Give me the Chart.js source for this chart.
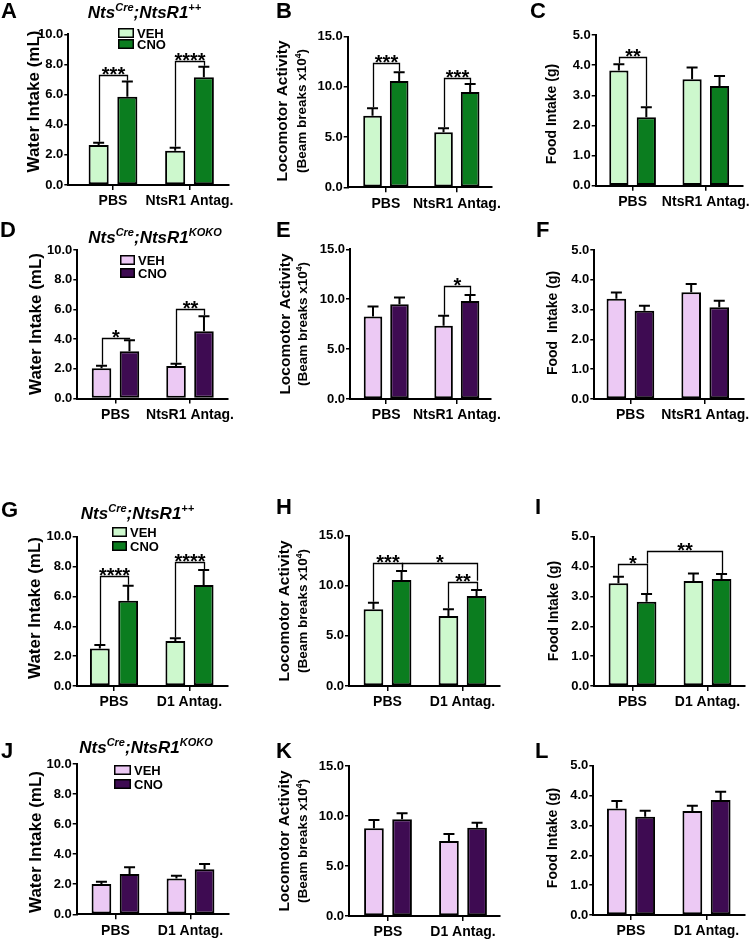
<!DOCTYPE html>
<html><head><meta charset="utf-8">
<script src="https://cdn.jsdelivr.net/npm/chart.js@4.4.1/dist/chart.umd.min.js"></script>
<style>
html,body{margin:0;padding:0;background:#fff;}
body{width:755px;height:940px;position:relative;overflow:hidden;}
canvas{position:absolute;}
</style></head><body>
<script>
// ---------------- DATA ----------------
const groupsNtsR1 = ["PBS", "NtsR1 Antag."];
const groupsD1 = ["PBS", "D1 Antag."];
const seriesLabels = ["VEH", "CNO"];

// Row 1 (NtsCre;NtsR1++, NtsR1 antagonist)
const waterA_veh = [2.65, 2.28];  const waterA_vehErr = [0.15, 0.20];
const waterA_cno = [5.86, 7.15];  const waterA_cnoErr = [1.00, 0.70];
const locoB_veh  = [7.13, 5.48];  const locoB_vehErr  = [0.74, 0.39];
const locoB_cno  = [10.59, 9.49]; const locoB_cnoErr  = [0.86, 0.80];
const foodC_veh  = [3.82, 3.53];  const foodC_vehErr  = [0.21, 0.39];
const foodC_cno  = [2.27, 3.31];  const foodC_cnoErr  = [0.33, 0.33];
// Row 2 (NtsCre;NtsR1KOKO, NtsR1 antagonist)
const waterD_veh = [2.03, 2.19];  const waterD_vehErr = [0.17, 0.15];
const waterD_cno = [3.19, 4.53];  const waterD_cnoErr = [0.74, 1.01];
const locoE_veh  = [8.27, 7.33];  const locoE_vehErr  = [1.00, 1.00];
const locoE_cno  = [9.50, 9.83];  const locoE_cnoErr  = [0.67, 0.60];
const foodF_veh  = [3.36, 3.58];  const foodF_vehErr  = [0.21, 0.28];
const foodF_cno  = [2.96, 3.08];  const foodF_cnoErr  = [0.17, 0.22];
// Row 3 (NtsCre;NtsR1++, D1 antagonist)
const waterG_veh = [2.52, 3.01];  const waterG_vehErr = [0.23, 0.18];
const waterG_cno = [5.71, 6.76];  const waterG_cnoErr = [1.01, 1.01];
const locoH_veh  = [7.65, 6.98];  const locoH_vehErr  = [0.66, 0.67];
const locoH_cno  = [10.58, 8.98]; const locoH_cnoErr  = [0.89, 0.60];
const foodI_veh  = [3.44, 3.52];  const foodI_vehErr  = [0.22, 0.25];
const foodI_cno  = [2.82, 3.58];  const foodI_cnoErr  = [0.26, 0.17];
// Row 4 (NtsCre;NtsR1KOKO, D1 antagonist)
const waterJ_veh = [2.02, 2.39];  const waterJ_vehErr = [0.15, 0.18];
const waterJ_cno = [2.68, 2.99];  const waterJ_cnoErr = [0.45, 0.36];
const locoK_veh  = [8.77, 7.50];  const locoK_vehErr  = [0.83, 0.70];
const locoK_cno  = [9.67, 8.83];  const locoK_cnoErr  = [0.60, 0.50];
const foodL_veh  = [3.57, 3.48];  const foodL_vehErr  = [0.25, 0.18];
const foodL_cno  = [3.29, 3.85];  const foodL_cnoErr  = [0.20, 0.28];

// significance brackets: from/to = [group, series]; level = bracket height (data units)
const bracketsA = [{from:[0,0], to:[0,1], level:7.3,  label:"***"},
                   {from:[1,0], to:[1,1], level:8.23, label:"****"}];
const bracketsB = [{from:[0,0], to:[0,1], level:12.35, label:"***"},
                   {from:[1,0], to:[1,1], level:10.85, label:"***"}];
const bracketsC = [{from:[0,0], to:[0,1], level:4.28, label:"**"}];
const bracketsD = [{from:[0,0], to:[0,1], level:4.08, label:"*"},
                   {from:[1,0], to:[1,1], level:6.03, label:"**"}];
const bracketsE = [{from:[1,0], to:[1,1], level:11.37, label:"*"}];
const bracketsG = [{from:[0,0], to:[0,1], level:7.39, label:"****"},
                   {from:[1,0], to:[1,1], level:8.28, label:"****"}];
const bracketsH = [{from:[0,0], to:[0,1], level:12.24, label:"***"},
                   {from:[0,1], to:[1,1], level:12.24, label:"*", fromLow:11.75, toLow:10.41},
                   {from:[1,0], to:[1,1], level:10.41, label:"**"}];
const bracketsI = [{from:[0,0], to:[0,1], level:4.07, label:"*"},
                   {from:[0,1], to:[1,1], level:4.52, label:"**", fromLow:4.07}];

// text
const titleWT = [["Nts",0],["Cre",1],[";NtsR1",0],["++",1]];
const titleKO = [["Nts",0],["Cre",1],[";NtsR1",0],["KOKO",1]];
const yTitleWater = [[["Water Intake (mL)",0]]];
const yTitleLoco  = [[["Locomotor Activity",0]], [["(Beam breaks x10",0],["4",1],[")",0]]];
const yTitleFood  = [[["Food Intake (g)",0]]];
const yTitleFood2 = [[["Food  Intake (g)",0]]];

// colours
const lightGreen = "#cdf8cd", darkGreen = "#0b7d1f";
const lightPurple = "#ecc9f4", darkPurple = "#3e0b52";

// ---------------- LAYOUT (pixels, page coordinates) ----------------
const FONT = "'Liberation Sans', Arial, Helvetica, sans-serif";
Chart.defaults.font.family = FONT;
Chart.defaults.color = "#000";

const panels = [
 {letter:"A", groups:groupsNtsR1, veh:waterA_veh, vehErr:waterA_vehErr, cno:waterA_cno, cnoErr:waterA_cnoErr, light:lightGreen, dark:darkGreen, yMax:10, yStep:2, yTitle:yTitleWater, brackets:bracketsA, title:titleWT,
  geo:{col:0, L:68.3, T:34.3, B:185, R:229, c0:113, c1:189.5, letterPos:[1,18], titlePos:[144.5,18], legend:[118,28,39,16,10], yPos:[[33,101.5]]}},
 {letter:"B", groups:groupsNtsR1, veh:locoB_veh, vehErr:locoB_vehErr, cno:locoB_cno, cnoErr:locoB_cnoErr, light:lightGreen, dark:darkGreen, yMax:15, yStep:5, yTitle:yTitleLoco, brackets:bracketsB,
  geo:{col:1, L:347.7, T:36.7, B:187.3, R:500, c0:388, c1:463, letterPos:[276,18], yPos:[[282,111],[302,111]]}},
 {letter:"C", groups:groupsNtsR1, veh:foodC_veh, vehErr:foodC_vehErr, cno:foodC_cno, cnoErr:foodC_cnoErr, light:lightGreen, dark:darkGreen, yMax:5, yStep:1, yTitle:yTitleFood, brackets:bracketsC,
  geo:{col:2, L:595.7, T:35, B:185.7, R:746, c0:633.5, c1:708.5, letterPos:[530,18], yPos:[[551.7,114]]}},
 {letter:"D", groups:groupsNtsR1, veh:waterD_veh, vehErr:waterD_vehErr, cno:waterD_cno, cnoErr:waterD_cnoErr, light:lightPurple, dark:darkPurple, yMax:10, yStep:2, yTitle:yTitleWater, brackets:bracketsD, title:titleKO,
  geo:{col:0, L:77.3, T:250, B:398.5, R:228, c0:115.5, c1:190, letterPos:[0,237], titlePos:[155,243], legend:[120,255,268,15,10], yPos:[[35,324]]}},
 {letter:"E", groups:groupsNtsR1, veh:locoE_veh, vehErr:locoE_vehErr, cno:locoE_cno, cnoErr:locoE_cnoErr, light:lightPurple, dark:darkPurple, yMax:15, yStep:5, yTitle:yTitleLoco, brackets:bracketsE,
  geo:{col:1, L:350, T:249.3, B:399, R:500, c0:388.5, c1:463.5, letterPos:[276,237], yPos:[[285,324],[303,324]]}},
 {letter:"F", groups:groupsNtsR1, veh:foodF_veh, vehErr:foodF_vehErr, cno:foodF_cno, cnoErr:foodF_cnoErr, light:lightPurple, dark:darkPurple, yMax:5, yStep:1, yTitle:yTitleFood2, brackets:[],
  geo:{col:2, L:594.3, T:250, B:399, R:744, c0:630.5, c1:705.5, letterPos:[536,237], yPos:[[552.5,323]]}},
 {letter:"G", groups:groupsD1, veh:waterG_veh, vehErr:waterG_vehErr, cno:waterG_cno, cnoErr:waterG_cnoErr, light:lightGreen, dark:darkGreen, yMax:10, yStep:2, yTitle:yTitleWater, brackets:bracketsG, title:titleWT,
  geo:{col:0, L:76.7, T:536.7, B:686, R:228, c0:114, c1:189.5, letterPos:[1,517], titlePos:[137.5,519], legend:[112,527,541,15,10], yPos:[[34,608]]}},
 {letter:"H", groups:groupsD1, veh:locoH_veh, vehErr:locoH_vehErr, cno:locoH_cno, cnoErr:locoH_cnoErr, light:lightGreen, dark:darkGreen, yMax:15, yStep:5, yTitle:yTitleLoco, brackets:bracketsH,
  geo:{col:1, L:349, T:535.7, B:686, R:500, c0:387.5, c1:462.5, letterPos:[276,514], yPos:[[284,611],[303,611]]}},
 {letter:"I", groups:groupsD1, veh:foodI_veh, vehErr:foodI_vehErr, cno:foodI_cno, cnoErr:foodI_cnoErr, light:lightGreen, dark:darkGreen, yMax:5, yStep:1, yTitle:yTitleFood, brackets:bracketsI,
  geo:{col:2, L:594.3, T:536.7, B:686, R:745, c0:632.5, c1:707.5, letterPos:[535,514], yPos:[[553,611]]}},
 {letter:"J", groups:groupsD1, veh:waterJ_veh, vehErr:waterJ_vehErr, cno:waterJ_cno, cnoErr:waterJ_cnoErr, light:lightPurple, dark:darkPurple, yMax:10, yStep:2, yTitle:yTitleWater, brackets:[], title:titleKO,
  geo:{col:0, L:76.7, T:764, B:914.3, R:229, c0:115.5, c1:190.5, letterPos:[1,758], titlePos:[146,753], legend:[114,765,779,17,10], yPos:[[35,842]]}},
 {letter:"K", groups:groupsD1, veh:locoK_veh, vehErr:locoK_vehErr, cno:locoK_cno, cnoErr:locoK_cnoErr, light:lightPurple, dark:darkPurple, yMax:15, yStep:5, yTitle:yTitleLoco, brackets:[],
  geo:{col:1, L:349, T:766, B:916, R:500, c0:388, c1:463, letterPos:[276,758], yPos:[[283.5,841],[303,841]]}},
 {letter:"L", groups:groupsD1, veh:foodL_veh, vehErr:foodL_vehErr, cno:foodL_cno, cnoErr:foodL_cnoErr, light:lightPurple, dark:darkPurple, yMax:5, yStep:1, yTitle:yTitleFood, brackets:[],
  geo:{col:2, L:593.3, T:765.7, B:915, R:745, c0:631, c1:706.5, letterPos:[535,758], yPos:[[552.5,838]]}},
];

const yTitleFonts = { water:[17], loco:[15.5, 13.5], food:[14] };

function drawParts(ctx, parts, x, y, size, supSize, style, rotate) {
  ctx.save();
  ctx.translate(x, y);
  if (rotate) ctx.rotate(-Math.PI / 2);
  let total = 0;
  const widths = parts.map(([t, sup]) => {
    ctx.font = style + " " + (sup ? supSize : size) + "px " + FONT;
    const w = ctx.measureText(t).width; total += w; return w;
  });
  let cx = -total / 2;
  ctx.textBaseline = "alphabetic"; ctx.textAlign = "left"; ctx.fillStyle = "#000";
  parts.forEach(([t, sup], i) => {
    ctx.font = style + " " + (sup ? supSize : size) + "px " + FONT;
    ctx.fillText(t, cx, sup ? -size * 0.4 : 0);
    cx += widths[i];
  });
  ctx.restore();
}

function makeChart(p) {
  const g = p.geo;
  const cLeft = [0, 255, 505][g.col];
  const cTop = Math.floor(g.T) - 42;
  const cW = 250;
  const cH = Math.ceil(g.B) - cTop + 36;
  const xAxisH = 30;
  const canvas = document.createElement("canvas");
  canvas.width = cW; canvas.height = cH;
  canvas.style.left = cLeft + "px"; canvas.style.top = cTop + "px";
  canvas.style.width = cW + "px"; canvas.style.height = cH + "px";
  document.body.appendChild(canvas);

  const s = g.c1 - g.c0;
  const xMin = -(g.c0 - g.L) / s, xMax = 1 + (g.R - g.c1) / s;
  const padTop = g.T - cTop;
  const padBottom = cH - (g.B - cTop) - xAxisH;
  const padRight = cW - (g.R - cLeft);
  const yW = g.L - cLeft;

  const values = [p.veh, p.cno], errs = [p.vehErr, p.cnoErr];
  const kind = p.yTitle === yTitleWater ? "water" : (p.yTitle === yTitleLoco ? "loco" : "food");

  const extras = {
    id: "extras" + p.letter,
    afterDatasetsDraw(chart) {
      const ctx = chart.ctx, ys = chart.scales.y;
      ctx.save();
      // error bars
      ctx.strokeStyle = "#000"; ctx.lineWidth = 2; ctx.lineCap = "butt";
      for (let d = 0; d < 2; d++) {
        chart.getDatasetMeta(d).data.forEach((bar, i) => {
          const yt = ys.getPixelForValue(values[d][i] + errs[d][i]);
          ctx.beginPath();
          ctx.moveTo(bar.x, bar.y); ctx.lineTo(bar.x, yt);
          ctx.moveTo(bar.x - 5.5, yt); ctx.lineTo(bar.x + 5.5, yt);
          ctx.stroke();
        });
      }
      // brackets
      ctx.lineWidth = 1.3;
      p.brackets.forEach(b => {
        const bf = chart.getDatasetMeta(b.from[1]).data[b.from[0]];
        const bt = chart.getDatasetMeta(b.to[1]).data[b.to[0]];
        const lowF = b.fromLow !== undefined ? b.fromLow : values[b.from[1]][b.from[0]] + errs[b.from[1]][b.from[0]];
        const lowT = b.toLow !== undefined ? b.toLow : values[b.to[1]][b.to[0]] + errs[b.to[1]][b.to[0]];
        const yl = Math.round(ys.getPixelForValue(b.level)) + 0.5;
        const xf = Math.round(bf.x) + 0.5, xt = Math.round(bt.x) + 0.5;
        ctx.beginPath();
        ctx.moveTo(xf, ys.getPixelForValue(lowF) - 1);
        ctx.lineTo(xf, yl); ctx.lineTo(xt, yl);
        ctx.lineTo(xt, ys.getPixelForValue(lowT) - 1);
        ctx.stroke();
        ctx.font = "bold 20px " + FONT;
        ctx.fillStyle = "#000"; ctx.textAlign = "center"; ctx.textBaseline = "alphabetic";
        ctx.fillText(b.label, (xf + xt) / 2, yl + 5);
      });
      ctx.restore();
    },
    afterDraw(chart) {
      const ctx = chart.ctx;
      ctx.save();
      // panel letter
      ctx.font = "bold 22px " + FONT; ctx.fillStyle = "#000";
      ctx.textAlign = "left"; ctx.textBaseline = "alphabetic";
      ctx.fillText(p.letter, g.letterPos[0] - cLeft, g.letterPos[1] - cTop);
      // genotype title
      if (p.title) drawParts(ctx, p.title, g.titlePos[0] - cLeft, g.titlePos[1] - cTop, 17, 11, "italic bold", false);
      // y titles
      p.yTitle.forEach((parts, li) => {
        const size = yTitleFonts[kind][li];
        const pos = g.yPos[li];
        drawParts(ctx, parts, pos[0] - cLeft + size * 0.33, pos[1] - cTop, size, size * 0.65, "bold", true);
      });
      // legend
      if (g.legend) {
        const [lx, y1, y2, w, h] = g.legend;
        [y1, y2].forEach((yy, d) => {
          const ds = chart.data.datasets[d];
          ctx.fillStyle = ds.backgroundColor;
          ctx.fillRect(lx - cLeft, yy - cTop, w, h);
          ctx.strokeStyle = "#000"; ctx.lineWidth = 1.5;
          ctx.strokeRect(lx - cLeft + 0.75, yy - cTop + 0.75, w - 1.5, h - 1.5);
          ctx.fillStyle = "#000"; ctx.font = "bold 13px " + FONT;
          ctx.textAlign = "left"; ctx.textBaseline = "middle";
          ctx.fillText(ds.label, lx - cLeft + w + 3, yy - cTop + h / 2 + 1);
        });
      }
      ctx.restore();
    }
  };

  new Chart(canvas, {
    type: "bar",
    data: {
      datasets: [0, 1].map(d => ({
        label: seriesLabels[d],
        data: values[d].map((v, i) => ({ x: i, y: v })),
        backgroundColor: d === 0 ? p.light : p.dark,
        borderColor: "#000",
        borderWidth: 2,
        borderSkipped: false,
        barPercentage: 0.7,
        categoryPercentage: 0.75
      }))
    },
    options: {
      responsive: false,
      animation: false,
      devicePixelRatio: 1,
      layout: { padding: { top: padTop, bottom: padBottom, left: 0, right: padRight } },
      plugins: { legend: { display: false }, tooltip: { enabled: false }, title: { display: false } },
      scales: {
        x: {
          type: "linear", min: xMin, max: xMax, offset: false, bounds: "data",
          afterBuildTicks: sc => { sc.ticks = [{ value: 0 }, { value: 1 }]; },
          afterFit: sc => { sc.height = xAxisH; },
          ticks: { autoSkip: false, maxRotation: 0, padding: 3, font: { size: 14, weight: "bold" }, color: "#000",
                   callback: (v, i) => p.groups[i] },
          grid: { offset: false, drawOnChartArea: false, drawTicks: true, tickLength: 5, color: "#000", lineWidth: 1.5 },
          border: { display: true, color: "#000", width: 2 }
        },
        y: {
          min: 0, max: p.yMax,
          afterFit: sc => { sc.width = yW; },
          ticks: { stepSize: p.yStep, padding: 1, font: { size: 13, weight: "bold" }, color: "#000",
                   callback: v => Number(v).toFixed(1) },
          grid: { drawOnChartArea: false, drawTicks: true, tickLength: 4, color: "#000", lineWidth: 1.5 },
          border: { display: true, color: "#000", width: 2 }
        }
      }
    },
    plugins: [extras]
  });
}

panels.forEach(makeChart);
</script>
</body></html>
